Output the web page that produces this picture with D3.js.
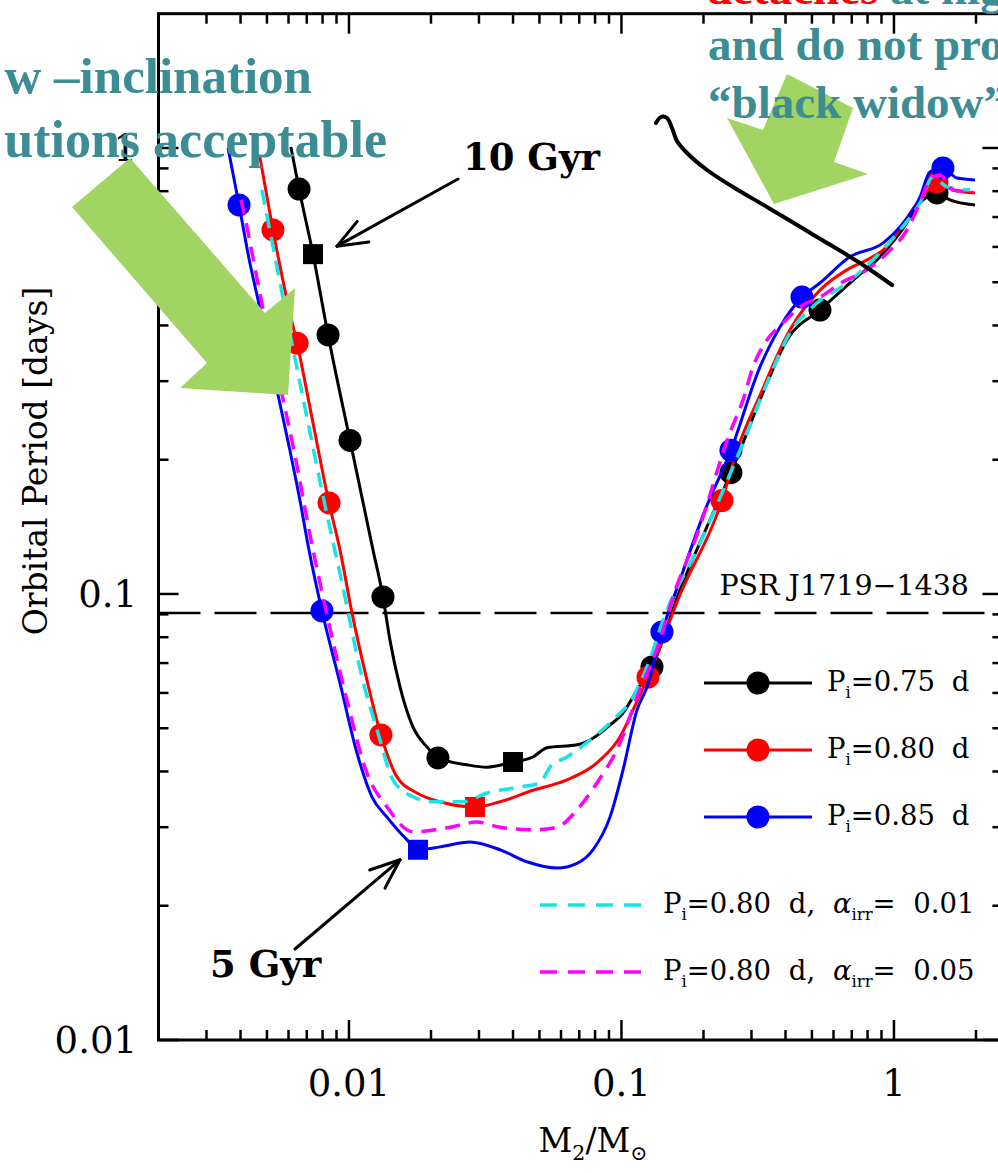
<!DOCTYPE html>
<html><head><meta charset="utf-8">
<script src="https://cdn.jsdelivr.net/npm/d3@7"></script>
<style>body{margin:0;background:#fff}svg{display:block}</style>
</head><body>
<svg id="c" width="998" height="1173"></svg>
<script>
// ---------------- DATA ----------------
const xDomain = [0.002, 2.5];          // M2/Msun
const yDomain = [0.01, 2];             // orbital period [days]
const xMajorTicks = [0.01, 0.1, 1];
const xTickLabels = ["0.01", "0.1", "1"];
const yMajorTicks = [0.01, 0.1, 1];
const yTickLabels = ["0.01", "0.1", "1"];
const psrPeriod = 0.0907;
const psrLabel = "PSR J1719\u22121438";

// Pi = 0.75 d (black)
const curveP075 = [[0.00612,1.005],[0.00656,0.809],[0.00738,0.578],[0.00838,0.381],[0.01009,0.221],[0.01225,0.1256],[0.01333,0.0985],[0.01414,0.0788],[0.01539,0.0619],[0.01718,0.0503],[0.01933,0.0454],[0.02121,0.0429],[0.0271,0.0414],[0.0321,0.0409],[0.0400,0.0420],[0.0473,0.0431],[0.0533,0.0452],[0.0687,0.0459],[0.0786,0.0475],[0.0907,0.0508],[0.1013,0.0541],[0.1140,0.0609],[0.1294,0.0686],[0.1639,0.1021],[0.2112,0.1465],[0.2522,0.187],[0.3420,0.297],[0.4049,0.371],[0.5351,0.433],[0.7316,0.514],[0.866,0.561],[1.052,0.645],[1.278,0.765],[1.438,0.793],[1.605,0.765],[1.983,0.745]];
const circlesP075 = [[0.00656,0.809],[0.00838,0.381],[0.01009,0.221],[0.01333,0.0985],[0.02121,0.0429],[0.1294,0.0686],[0.2522,0.187],[0.5351,0.433],[1.438,0.793]];
const squaresP075 = [[0.00738,0.578],[0.0400,0.0420]];

// Pi = 0.80 d (red)
const curveP080 = [[0.00471,0.954],[0.00526,0.655],[0.00607,0.427],[0.00645,0.365],[0.00731,0.249],[0.00845,0.160],[0.00927,0.1256],[0.01026,0.0907],[0.01164,0.0641],[0.0131,0.0483],[0.0150,0.0389],[0.01777,0.0358],[0.02158,0.0342],[0.0290,0.0333],[0.03583,0.0342],[0.04734,0.0363],[0.0631,0.0383],[0.08339,0.0424],[0.09874,0.0478],[0.1102,0.0549],[0.1251,0.0651],[0.1639,0.0995],[0.2338,0.162],[0.2654,0.210],[0.3224,0.279],[0.4153,0.391],[0.5351,0.480],[0.6722,0.533],[0.7961,0.561],[0.9113,0.590],[1.246,0.765],[1.438,0.839],[1.646,0.805],[1.983,0.793]];
const circlesP080 = [[0.00526,0.655],[0.00645,0.365],[0.00845,0.160],[0.0131,0.0483],[0.1251,0.0651],[0.2338,0.162],[1.438,0.839]];
const squaresP080 = [[0.0290,0.0333]];

// Pi = 0.85 d (blue)
const curveP085 = [[0.0036,1.0],[0.00395,0.745],[0.00433,0.552],[0.00464,0.456],[0.00544,0.287],[0.00607,0.210],[0.00661,0.162],[0.00713,0.1256],[0.00796,0.0916],[0.00927,0.0631],[0.0107,0.0440],[0.01214,0.0351],[0.01379,0.0316],[0.01633,0.0281],[0.01792,0.0267],[0.02158,0.0271],[0.0278,0.0278],[0.03583,0.0267],[0.045,0.0251],[0.058,0.0243],[0.06866,0.0249],[0.07859,0.0267],[0.09074,0.0316],[0.1013,0.0403],[0.114,0.0549],[0.1241,0.0619],[0.1408,0.0822],[0.1639,0.1075],[0.2025,0.154],[0.2522,0.210],[0.3224,0.323],[0.3817,0.397],[0.4597,0.463],[0.5351,0.498],[0.6894,0.570],[0.9113,0.612],[1.052,0.665],[1.246,0.776],[1.356,0.884],[1.513,0.902],[1.703,0.856],[1.983,0.848]];
const circlesP085 = [[0.00395,0.745],[0.00796,0.0916],[0.1408,0.0822],[0.2522,0.210],[0.4597,0.463],[1.513,0.902]];
const squaresP085 = [[0.01792,0.0267]];

// Pi = 0.80 d, alpha_irr = 0.01 (cyan dashed)
const curveIrr001 = [[0.00479,0.805],[0.00487,0.765],[0.00607,0.385],[0.00701,0.249],[0.0081,0.162],[0.00943,0.1059],[0.01116,0.0651],[0.01278,0.0488],[0.0145,0.0383],[0.01718,0.0351],[0.02033,0.0342],[0.02619,0.0342],[0.0321,0.0358],[0.04242,0.0369],[0.05022,0.0377],[0.05465,0.0409],[0.0631,0.0431],[0.07662,0.0470],[0.09307,0.0522],[0.1102,0.0587],[0.1241,0.0686],[0.1444,0.0897],[0.1893,0.1256],[0.2722,0.210],[0.3420,0.297],[0.4153,0.385],[0.5218,0.449],[0.6722,0.498],[0.8375,0.561],[1.052,0.655],[1.246,0.753],[1.390,0.861],[1.565,0.818],[1.901,0.805]];

// Pi = 0.80 d, alpha_irr = 0.05 (magenta dashed)
const curveIrr005 = [[0.00402,0.765],[0.00415,0.700],[0.00487,0.427],[0.00563,0.287],[0.00628,0.210],[0.00738,0.1256],[0.00823,0.0921],[0.00983,0.0578],[0.01164,0.0397],[0.01379,0.0333],[0.01718,0.0293],[0.02289,0.0299],[0.0295,0.0308],[0.03583,0.0300],[0.04734,0.0296],[0.05799,0.0300],[0.06866,0.0328],[0.0813,0.0377],[0.09874,0.0463],[0.1140,0.0587],[0.1384,0.0788],[0.1545,0.0985],[0.1893,0.1356],[0.2501,0.230],[0.2792,0.272],[0.3039,0.323],[0.3420,0.371],[0.3914,0.405],[0.4519,0.440],[0.5351,0.463],[0.6499,0.501],[0.7961,0.533],[0.9426,0.581],[1.116,0.655],[1.246,0.753],[1.356,0.848],[1.475,0.870],[1.646,0.805],[1.950,0.797]];

const legendSolid = [
  {label:"0.75", color:"#000000"},
  {label:"0.80", color:"#ff0000"},
  {label:"0.85", color:"#0000ff"}
];
const legendDashed = [
  {label:"0.80", alpha:"0.01", color:"#19e3e3"},
  {label:"0.80", alpha:"0.05", color:"#ff00ff"}
];

// ---------------- CHART ----------------
const W = 998, H = 1173;
const svg = d3.select("#c");
svg.append("rect").attr("width", W).attr("height", H).attr("fill", "#fff");

const x = d3.scaleLog().domain(xDomain).range([158.5, 1002.4]);
const y = d3.scaleLog().domain(yDomain).range([1040, 13.7]);
const [X0, X1] = x.range();
const [Y0, Y1] = y.range();

const serif = "'DejaVu Serif', serif";

// minor ticks
const minorX = [], minorY = [];
[0.001, 0.01, 0.1, 1].forEach(d => {
  for (let k = 2; k <= 9; k++) {
    const v = +(k * d).toPrecision(3);
    if (v > xDomain[0] - 1e-9 && v < xDomain[1]) minorX.push(v);
    if (v > yDomain[0] && v < yDomain[1] - 1e-9) minorY.push(v);
  }
});

const axes = svg.append("g").attr("stroke", "#000").attr("stroke-width", 2.5);
function tick(x1_, y1_, x2_, y2_) { axes.append("line").attr("x1", x1_).attr("y1", y1_).attr("x2", x2_).attr("y2", y2_); }
xMajorTicks.forEach(v => { tick(x(v), Y0, x(v), Y0 - 20); tick(x(v), Y1, x(v), Y1 + 20); });
minorX.forEach(v => { tick(x(v), Y0, x(v), Y0 - 10); tick(x(v), Y1, x(v), Y1 + 10); });
yMajorTicks.forEach(v => { tick(X0, y(v), X0 + 20, y(v)); tick(X1, y(v), X1 - 20, y(v)); });
minorY.forEach(v => { tick(X0, y(v), X0 + 10, y(v)); tick(X1, y(v), X1 - 10, y(v)); });
svg.append("rect").attr("x", X0).attr("y", Y1).attr("width", X1 - X0).attr("height", Y0 - Y1)
  .attr("fill", "none").attr("stroke", "#000").attr("stroke-width", 3);

// tick labels
xMajorTicks.forEach((v, i) => {
  svg.append("text").attr("x", x(v)).attr("y", 1096).attr("text-anchor", "middle")
    .attr("font-family", serif).attr("font-size", 37).text(xTickLabels[i]);
});
yMajorTicks.forEach((v, i) => {
  svg.append("text").attr("x", 137).attr("y", y(v) + 13).attr("text-anchor", "end")
    .attr("font-family", serif).attr("font-size", 37).text(yTickLabels[i]);
});

// axis titles
svg.append("text").attr("transform", "translate(47,461) rotate(-90)")
  .attr("text-anchor", "middle").attr("font-family", serif).attr("font-size", 33)
  .text("Orbital Period [days]");
const xt = svg.append("text").attr("x", 593).attr("y", 1152).attr("text-anchor", "middle")
  .attr("font-family", serif).attr("font-size", 33);
xt.append("tspan").text("M");
xt.append("tspan").attr("font-size", "62%").attr("dy", 8).text("2");
xt.append("tspan").attr("dy", -8).text("/M");
xt.append("tspan").attr("font-size", "62%").attr("dy", 8).text("\u2299");

// PSR line
svg.append("line").attr("x1", X0).attr("x2", X1).attr("y1", y(psrPeriod)).attr("y2", y(psrPeriod))
  .attr("stroke", "#000").attr("stroke-width", 2.5).attr("stroke-dasharray", "42,14");
svg.append("text").attr("x", 969).attr("y", 595).attr("text-anchor", "end")
  .attr("font-family", serif).attr("font-size", 28.5).text(psrLabel);

// curves
const line = d3.line().x(d => x(d[0])).y(d => y(d[1])).curve(d3.curveMonotoneX);
const plot = svg.append("g");
function solidSeries(curve, circles, squares, color) {
  plot.append("path").attr("d", line(curve)).attr("fill", "none").attr("stroke", color).attr("stroke-width", 3);
  plot.selectAll(null).data(circles).enter().append("circle")
    .attr("cx", d => x(d[0])).attr("cy", d => y(d[1])).attr("r", 11.5).attr("fill", color);
  plot.selectAll(null).data(squares).enter().append("rect")
    .attr("x", d => x(d[0]) - 10).attr("y", d => y(d[1]) - 10).attr("width", 20).attr("height", 20).attr("fill", color);
}
solidSeries(curveP075, circlesP075, squaresP075, legendSolid[0].color);
solidSeries(curveP080, circlesP080, squaresP080, legendSolid[1].color);
solidSeries(curveP085, circlesP085, squaresP085, legendSolid[2].color);
[[curveIrr001, legendDashed[0].color], [curveIrr005, legendDashed[1].color]].forEach(([c, col]) => {
  plot.append("path").attr("d", line(c)).attr("fill", "none").attr("stroke", col)
    .attr("stroke-width", 3.5).attr("stroke-dasharray", "15,9");
});

// legend
const lg = svg.append("g").attr("font-family", serif).attr("font-size", 27.5);
legendSolid.forEach((s, i) => {
  const yy = 683 + i * 67;
  lg.append("line").attr("x1", 704).attr("x2", 812).attr("y1", yy).attr("y2", yy).attr("stroke", s.color).attr("stroke-width", 3);
  lg.append("circle").attr("cx", 758).attr("cy", yy).attr("r", 11.5).attr("fill", s.color);
  const t = lg.append("text").attr("x", 827).attr("y", yy + 8).attr("word-spacing", 8);
  t.append("tspan").text("P");
  t.append("tspan").attr("font-size", "60%").attr("dy", 7).text("i");
  t.append("tspan").attr("dy", -7).text("=" + s.label + " d");
});
legendDashed.forEach((s, i) => {
  const yy = 905 + i * 67;
  lg.append("line").attr("x1", 540).attr("x2", 645).attr("y1", yy).attr("y2", yy).attr("stroke", s.color)
    .attr("stroke-width", 3.5).attr("stroke-dasharray", "17,11");
  const t = lg.append("text").attr("x", 663).attr("y", yy + 8).attr("word-spacing", 9);
  t.append("tspan").text("P");
  t.append("tspan").attr("font-size", "60%").attr("dy", 7).text("i");
  t.append("tspan").attr("dy", -7).text("=" + s.label + " d, ");
  t.append("tspan").attr("font-style", "italic").text("\u03b1");
  t.append("tspan").attr("font-size", "60%").attr("dy", 7).text("irr");
  t.append("tspan").attr("dy", -7).text("= " + s.alpha);
});

// age annotations (arrows pointing to the square markers)
function arrow(tail, tip) {
  const g = svg.append("g").attr("stroke", "#000").attr("stroke-width", 3).attr("fill", "none").attr("stroke-linecap", "round");
  g.append("line").attr("x1", tail[0]).attr("y1", tail[1]).attr("x2", tip[0]).attr("y2", tip[1]);
  const a = Math.atan2(tail[1] - tip[1], tail[0] - tip[0]);
  [0.38, -0.38].forEach(da => {
    g.append("line").attr("x1", tip[0]).attr("y1", tip[1])
      .attr("x2", tip[0] + 32 * Math.cos(a + da)).attr("y2", tip[1] + 32 * Math.sin(a + da));
  });
}
const sq10 = squaresP075[0], sq5 = squaresP085[0];
arrow([458, 179], [x(sq10[0]) + 24, y(sq10[1]) - 8]);
arrow([295, 949], [x(sq5[0]) - 18, y(sq5[1]) + 10]);
svg.append("text").attr("x", 463).attr("y", 170).attr("font-family", serif).attr("font-weight", "bold")
  .attr("font-size", 37).text("10 Gyr");
svg.append("text").attr("x", 210).attr("y", 977).attr("font-family", serif).attr("font-weight", "bold")
  .attr("font-size", 37).text("5 Gyr");

// ---------------- OVERLAYS ----------------
const green = "#a1d463";
svg.append("polygon").attr("fill", green)
  .attr("points", [[130,158],[265,313],[295,288],[288,395],[180,388],[207,363],[72,207]].map(p => p.join(",")).join(" "));
svg.append("polygon").attr("fill", green)
  .attr("points", [[787,74],[853,108],[834,162],[868,174],[774,204],[727,118],[763,130]].map(p => p.join(",")).join(" "));

const teal = "#3b8c93";
const ov = svg.append("g").attr("font-family", "'Liberation Serif', serif").attr("font-weight", "bold").attr("fill", teal);
ov.append("text").attr("x", 312).attr("y", 93).attr("text-anchor", "end").attr("font-size", 51).text("w \u2013inclination");
ov.append("text").attr("x", 387).attr("y", 157).attr("text-anchor", "end").attr("font-size", 52).text("utions acceptable");
const t1 = ov.append("text").attr("x", 706).attr("y", 4).attr("font-size", 47);
t1.append("tspan").attr("fill", "#ff0000").text("detaches");
t1.append("tspan").text(" at hig");
ov.append("text").attr("x", 708).attr("y", 60).attr("font-size", 47).text("and do not pro");
ov.append("text").attr("x", 708).attr("y", 118).attr("font-size", 47).text("\u201cblack widow\u201d");

// hand-drawn stroke
const hand = [[656,123],[661,117],[667,118],[672,128],[677,141],[687,153],[707,170],[733,187],[767,207],[817,237],[860,263],[892,285]];
svg.append("path").attr("d", d3.line().curve(d3.curveCatmullRom)(hand))
  .attr("fill", "none").attr("stroke", "#000").attr("stroke-width", 4).attr("stroke-linecap", "round");
</script>
</body></html>
